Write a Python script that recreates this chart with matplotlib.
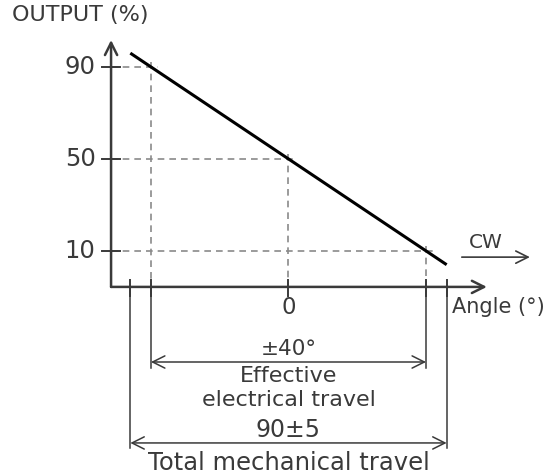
import numpy as np
from matplotlib import pyplot as plt

# values
angle = [-46, 0, 46]
output = [96, 50, 4]
yticks = [10, 50, 90]
ytick_labels = ['10', '50', '90']
grid_x = [-40, 0, 40]      # angle where the dashed guides meet the line
grid_y = [90, 50, 10]
elec_travel = 40          # +-40 deg effective electrical travel
mech_travel = 46          # 90+-5 total mechanical travel (half width as drawn)

ink = '#3a3a3a'
grid = '#8a8a8a'

fig = plt.figure(figsize=(5.56, 4.74), dpi=100)
ax = fig.add_axes([0, 0, 1, 1])
ax.set_xlim(-83.9, 77.8)
ax.set_ylim(-87.0, 119.1)
ax.axis('off')

x0, y0 = -51.6, -5.65   # where the two axes cross

# axes with arrow heads
arrow = dict(arrowstyle='->', color=ink, lw=1.8, mutation_scale=22, shrinkA=0, shrinkB=0)
ax.annotate('', xy=(57.7, y0), xytext=(x0, y0), arrowprops=arrow)
ax.annotate('', xy=(x0, 101.7), xytext=(x0, y0), arrowprops=arrow)

# dashed guides
for gx, gy in zip(grid_x, grid_y):
    ax.plot([x0, gx + 2], [gy, gy], ls=(0, (4, 3)), color=grid, lw=1.2)
    ax.plot([gx, gx], [gy + 2, y0], ls=(0, (4, 3)), color=grid, lw=1.2)

# characteristic line
ax.plot(angle, output, color='black', lw=2.2, solid_capstyle='butt')

# y ticks
for t, lab in zip(yticks, ytick_labels):
    ax.plot([x0 - 2.6, x0 + 2.6], [t, t], color=ink, lw=1.4)
    ax.text(x0 - 4.5, t, lab, ha='right', va='center', fontsize=17.5, color=ink)

# x ticks
for t in [-mech_travel, -elec_travel, 0, elec_travel, mech_travel]:
    ax.plot([t, t], [y0 + 3, y0 - 4], color=ink, lw=1.4)
ax.text(0, -14.5, '0', ha='center', va='center', fontsize=16.5, color=ink)

ax.text(-80.5, 112.5, 'OUTPUT (%)', ha='left', va='center', fontsize=16, color=ink)
ax.text(47.5, -14.5, 'Angle (°)', ha='left', va='center', fontsize=15, color=ink)

# CW arrow
ax.text(57.4, 13.5, 'CW', ha='center', va='center', fontsize=14.5, color=ink)
ax.annotate('', xy=(70.2, 7.3), xytext=(50.4, 7.3),
            arrowprops=dict(arrowstyle='->', color=ink, lw=1.2, mutation_scale=22,
                            shrinkA=0, shrinkB=0))

# extension lines below the axis
ax.plot([-elec_travel, -elec_travel], [y0, -41], color=ink, lw=1.1)
ax.plot([elec_travel, elec_travel], [y0, -41], color=ink, lw=1.1)
ax.plot([-mech_travel, -mech_travel], [y0, -75.5], color=ink, lw=1.1)
ax.plot([mech_travel, mech_travel], [y0, -75.5], color=ink, lw=1.1)

dim = dict(arrowstyle='<->', color=ink, lw=1.1, mutation_scale=22, shrinkA=0, shrinkB=0)
ax.annotate('', xy=(elec_travel, -38.3), xytext=(-elec_travel, -38.3), arrowprops=dim)
ax.annotate('', xy=(mech_travel, -73.5), xytext=(-mech_travel, -73.5), arrowprops=dim)

ax.text(0, -32.5, '±40°', ha='center', va='center', fontsize=15.5, color=ink)
ax.text(0, -44.6, 'Effective', ha='center', va='center', fontsize=16, color=ink)
ax.text(0, -55.0, 'electrical travel', ha='center', va='center', fontsize=16, color=ink)
ax.text(0, -67.8, '90±5', ha='center', va='center', fontsize=17, color=ink)
ax.text(0, -82, 'Total mechanical travel', ha='center', va='center', fontsize=17.5, color=ink)

fig.savefig('out.png', dpi=100, facecolor='white')
